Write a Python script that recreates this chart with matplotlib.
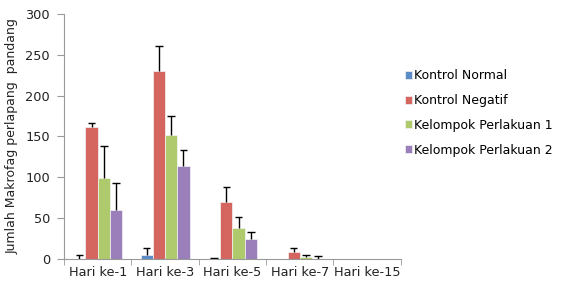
import matplotlib.pyplot as plt
import numpy as np

categories = ['Hari ke-1', 'Hari ke-3', 'Hari ke-5', 'Hari ke-7', 'Hari ke-15']
series_names = ['Kontrol Normal', 'Kontrol Negatif', 'Kelompok Perlakuan 1', 'Kelompok Perlakuan 2']

kontrol_normal = [0, 5, 0, 0, 0]
kontrol_negatif = [161, 230, 70, 8, 0]
perlakuan_1 = [99, 152, 38, 2, 0]
perlakuan_2 = [60, 114, 24, 0, 0]

err_normal = [5, 9, 1, 0, 0]
err_negatif = [6, 31, 18, 5, 0]
err_p1 = [39, 23, 13, 3, 0]
err_p2 = [33, 19, 9, 4, 0]

colors = ['#5B8CC8', '#D4665F', '#AFCA6C', '#9A7FBA']

values = [kontrol_normal, kontrol_negatif, perlakuan_1, perlakuan_2]
errors = [err_normal, err_negatif, err_p1, err_p2]

fs = 9.3
txt = '#222222'

fig = plt.figure(figsize=(5.69, 2.84), dpi=100)
ax = fig.add_axes([0.1125, 0.088, 0.592, 0.863])

x = np.arange(len(categories))
w = 0.182
cap = 0.055
for i, (vals, errs) in enumerate(zip(values, errors)):
    pos = x + (i - 1.5) * w
    vals = np.array(vals)
    errs = np.array(errs)
    ax.bar(pos, vals, width=w, color=colors[i], edgecolor='#f4f4f4', linewidth=0.5,
           label=series_names[i], zorder=2)
    # hanya error bar ke atas, hanya jika ada error
    m = errs > 0
    top = vals + errs
    ax.vlines(pos[m], vals[m], top[m], colors='black', linewidth=1, zorder=3)
    ax.hlines(top[m], pos[m] - cap, pos[m] + cap, colors='black', linewidth=1, zorder=3)

ax.set_xlim(-0.5, len(categories) - 0.5)
ax.set_ylim(0, 300)
ax.set_yticks([0, 50, 100, 150, 200, 250, 300])
ax.set_xticks(x)
ax.set_xticklabels(categories, fontsize=fs, color=txt)
ax.set_xticks(np.arange(len(categories) + 1) - 0.5, minor=True)
ax.tick_params(axis='x', which='major', length=0, pad=5)
ax.tick_params(axis='x', which='minor', length=4, color='#999999')
ax.tick_params(axis='y', length=5, color='#999999', labelsize=fs, labelcolor=txt, pad=5)

for s in ['top', 'right']:
    ax.spines[s].set_visible(False)
for s in ['left', 'bottom']:
    ax.spines[s].set_color('#999999')

ax.set_ylabel('Jumlah Makrofag perlapang  pandang', fontsize=9, color=txt, labelpad=5)

ax.legend(loc='center left', bbox_to_anchor=(0.99, 0.596), frameon=False, fontsize=9,
          handlelength=0.6, handleheight=0.6, handletextpad=0.1, labelspacing=0.95,
          borderaxespad=0.2)

fig.savefig('out.png', dpi=100)
